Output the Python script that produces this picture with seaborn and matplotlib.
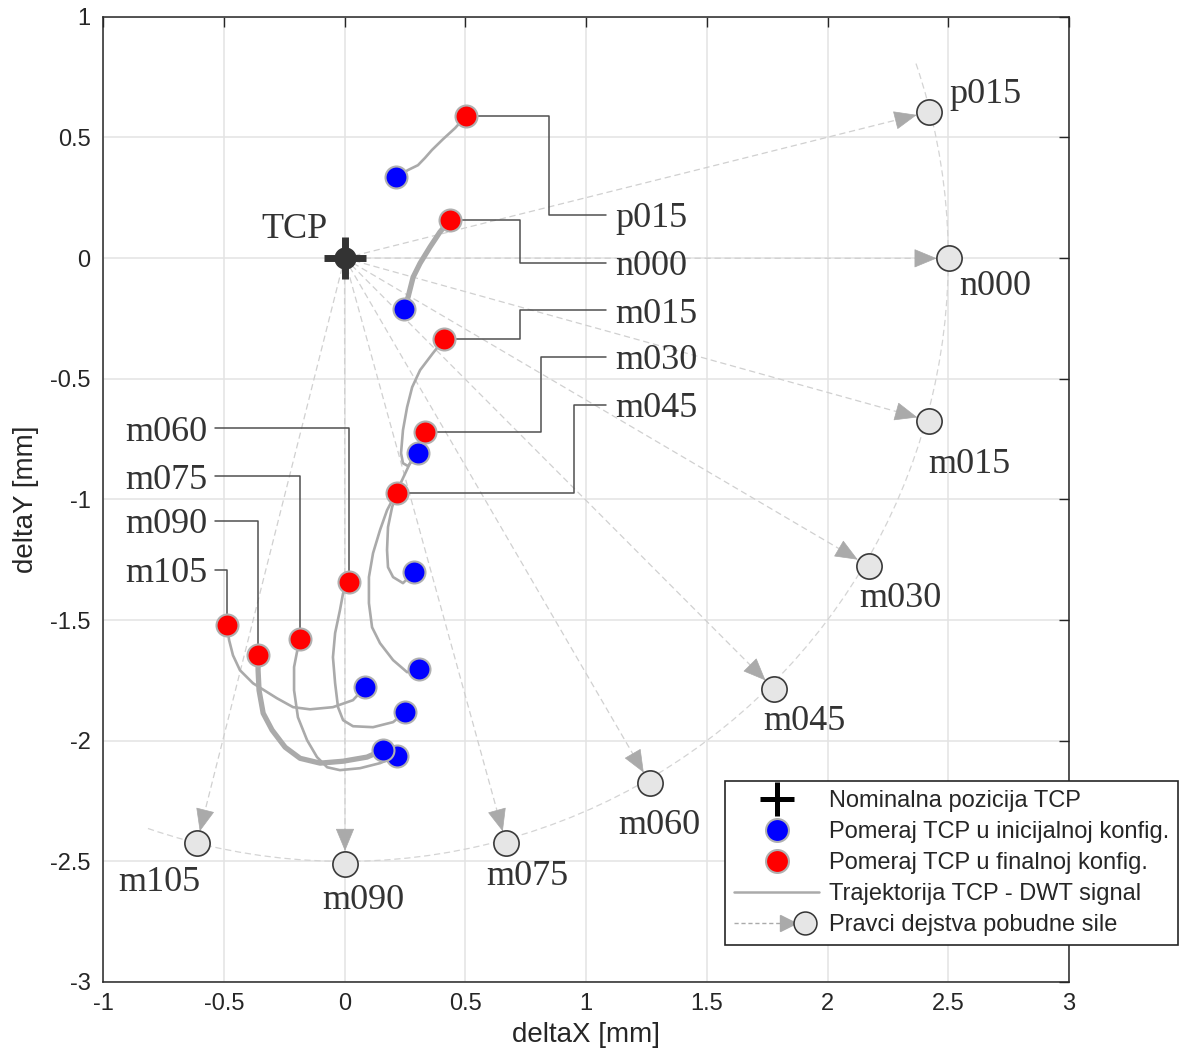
import numpy as np
import pandas as pd
import matplotlib
matplotlib.use("Agg")
import matplotlib.pyplot as plt
from matplotlib.lines import Line2D
from matplotlib.patches import Arc, FancyArrowPatch, ArrowStyle
from matplotlib.legend_handler import HandlerBase
import seaborn as sns

# ---------------------------------------------------------------- data
configs = ["p015", "n000", "m015", "m030", "m045", "m060", "m075", "m090", "m105"]

# TCP trajectories (DWT signal), from initial to final configuration [mm]
p015_x = [0.213, 0.263, 0.304, 0.333, 0.362, 0.408, 0.458, 0.503]
p015_y = [0.336, 0.365, 0.385, 0.415, 0.448, 0.493, 0.539, 0.589]
n000_x = [0.246, 0.263, 0.284, 0.313, 0.354, 0.395, 0.437]
n000_y = [-0.211, -0.162, -0.079, -0.021, 0.046, 0.108, 0.158]
m015_x = [0.304, 0.263, 0.242, 0.234, 0.242, 0.259, 0.280, 0.313, 0.366, 0.412]
m015_y = [-0.808, -0.862, -0.850, -0.808, -0.713, -0.618, -0.535, -0.464, -0.394, -0.336]
m030_x = [0.308, 0.259, 0.201, 0.147, 0.114, 0.101, 0.101, 0.118, 0.147, 0.176,
          0.209, 0.242, 0.271, 0.304, 0.333]
m030_y = [-1.704, -1.716, -1.666, -1.596, -1.530, -1.430, -1.322, -1.223, -1.127, -1.045,
          -0.982, -0.912, -0.850, -0.783, -0.721]
m045_x = [0.288, 0.242, 0.201, 0.180, 0.176, 0.180, 0.197, 0.217]
m045_y = [-1.302, -1.347, -1.322, -1.281, -1.210, -1.115, -1.032, -0.974]
m060_x = [0.251, 0.201, 0.118, 0.035, -0.006, -0.027, -0.039, -0.048, -0.039, -0.019, -0.006, 0.019]
m060_y = [-1.882, -1.923, -1.944, -1.940, -1.915, -1.861, -1.762, -1.654, -1.554, -1.459, -1.389, -1.343]
m075_x = [0.217, 0.147, 0.064, -0.019, -0.072, -0.114, -0.155, -0.193, -0.209, -0.209, -0.197, -0.184]
m075_y = [-2.064, -2.093, -2.114, -2.122, -2.110, -2.068, -1.998, -1.903, -1.791, -1.695, -1.633, -1.579]
m090_x = [0.159, 0.093, -0.006, -0.101, -0.184, -0.246, -0.300, -0.337, -0.354, -0.358, -0.358]
m090_y = [-2.039, -2.068, -2.085, -2.093, -2.073, -2.027, -1.956, -1.886, -1.791, -1.708, -1.646]
m105_x = [0.085, 0.035, -0.048, -0.143, -0.213, -0.280, -0.379, -0.433, -0.462, -0.478, -0.487]
m105_y = [-1.778, -1.832, -1.861, -1.870, -1.861, -1.824, -1.762, -1.708, -1.646, -1.583, -1.521]

# Excitation force directions (points on the R = 2.5 mm arc)
force_x = [2.420, 2.504, 2.422, 2.170, 1.780, 1.265, 0.669, 0.002, -0.612]
force_y = [0.606, -0.001, -0.674, -1.276, -1.787, -2.177, -2.426, -2.509, -2.426]

tcp_x, tcp_y = [0.0], [0.0]

x_ticks = [-1, -0.5, 0, 0.5, 1, 1.5, 2, 2.5, 3]
x_tick_labels = ["-1", "-0.5", "0", "0.5", "1", "1.5", "2", "2.5", "3"]
y_ticks = [-3, -2.5, -2, -1.5, -1, -0.5, 0, 0.5, 1]
y_tick_labels = ["-3", "-2.5", "-2", "-1.5", "-1", "-0.5", "0", "0.5", "1"]

legend_labels = ["Nominalna pozicija TCP", "Pomeraj TCP u inicijalnoj konfig.",
                 "Pomeraj TCP u finalnoj konfig.", "Trajektorija TCP - DWT signal",
                 "Pravci dejstva pobudne sile"]

traj_x = [p015_x, n000_x, m015_x, m030_x, m045_x, m060_x, m075_x, m090_x, m105_x]
traj_y = [p015_y, n000_y, m015_y, m030_y, m045_y, m060_y, m075_y, m090_y, m105_y]

# ---------------------------------------------------------------- layout
thick_traj = {"n000", "m090"}
# leader line heights and elbow positions for the configuration tags
leader_y = {"p015": 0.178, "n000": -0.021, "m015": -0.216, "m030": -0.410, "m045": -0.609,
            "m060": -0.705, "m075": -0.904, "m090": -1.090, "m105": -1.293}
leader_elbow = {"p015": 0.847, "n000": 0.727, "m015": 0.727, "m030": 0.814, "m045": 0.950}
right_end, right_text = 1.083, 1.120
left_end, left_text = -0.536, -0.569
digit_half = 0.051
# tag positions next to the force-direction circles (centre, baseline)
force_tag = {"p015": (2.656, 0.642), "n000": (2.696, -0.153), "m015": (2.588, -0.891),
             "m030": (2.300, -1.447), "m045": (1.905, -1.956), "m060": (1.302, -2.388),
             "m075": (0.758, -2.599), "m090": (0.077, -2.698), "m105": (-0.768, -2.624)}

# ---------------------------------------------------------------- style
sns.set_style("white")
plt.rcParams["font.family"] = ["Liberation Sans", "DejaVu Sans"]
plt.rcParams["axes.unicode_minus"] = False
SERIF = ["Liberation Serif", "DejaVu Serif"]
DARK = "#262626"
TXT = "#333333"
TRAJ = "#aaaaaa"

fig = plt.figure(figsize=(11.79, 10.63), dpi=100)
ax = fig.add_axes([0.0874, 0.0762, 0.8193, 0.908])
ax.set_xlim(-1, 3)
ax.set_ylim(-3, 1)

ax.set_xticks(x_ticks)
ax.set_xticklabels(x_tick_labels)
ax.set_yticks(y_ticks)
ax.set_yticklabels(y_tick_labels)
ax.grid(True, color="#e3e3e3", lw=1.1, zorder=0)
ax.set_axisbelow(True)
ax.tick_params(direction="in", length=7, width=1.0, color=DARK, top=True, right=True,
               labelsize=17, labelcolor=DARK)
ax.tick_params(axis="y", pad=9)
ax.tick_params(axis="x", pad=8)
for sp in ax.spines.values():
    sp.set_color(DARK)
    sp.set_linewidth(1.1)
ax.set_xlabel("deltaX [mm]", fontsize=20, color=DARK, labelpad=5)
ax.set_ylabel("deltaY [mm]", fontsize=20, color=DARK, labelpad=8)

# dashed arc through the force directions
ax.add_patch(Arc((0, 0), 5.0, 5.0, theta1=-109, theta2=19, ls=(0, (5, 3)),
                 ec="#d4d4d4", lw=0.9, zorder=1))

# dashed force-direction arrows from the nominal TCP
r_circle = 0.052
head_len = 0.062
for fx, fy in zip(force_x, force_y):
    d = np.hypot(fx, fy)
    ux, uy = fx / d, fy / d
    tipx, tipy = fx - r_circle * ux, fy - r_circle * uy
    ax.plot([0, tipx - head_len * ux], [0, tipy - head_len * uy], ls=(0, (5, 3)),
            color="#d0d0d0", lw=0.9, zorder=1)
    ax.add_patch(FancyArrowPatch((tipx - head_len * ux, tipy - head_len * uy), (tipx, tipy),
                                 arrowstyle=ArrowStyle("-|>", head_length=1.5, head_width=0.62),
                                 mutation_scale=10, shrinkA=0, shrinkB=0,
                                 fc="#aaaaaa", ec="#aaaaaa", lw=0.5, zorder=2))

sns.scatterplot(x=force_x, y=force_y, s=330, color="#e6e6e6", edgecolor="#3a3a3a",
                linewidth=1.2, ax=ax, zorder=3, legend=False)
for name in configs:
    cx, cy = force_tag[name]
    ax.text(cx, cy, name, ha="center", va="baseline", fontsize=26, color=TXT, family=SERIF)

# trajectories
for name, xs, ys in zip(configs, traj_x, traj_y):
    df = pd.DataFrame({"x": xs, "y": ys})
    sns.lineplot(data=df, x="x", y="y", sort=False, estimator=None, color=TRAJ,
                 lw=3.8 if name in thick_traj else 1.9, ax=ax, zorder=3,
                 solid_capstyle="round", solid_joinstyle="round")

init_x = [t[0] for t in traj_x]
init_y = [t[0] for t in traj_y]
final_x = [t[-1] for t in traj_x]
final_y = [t[-1] for t in traj_y]

# leader lines to the configuration tags
for name, rx, ry in zip(configs, final_x, final_y):
    ly = leader_y[name]
    if name in leader_elbow:
        ex = leader_elbow[name]
        ax.plot([rx, ex, ex, right_end], [ry, ry, ly, ly], color="#505050", lw=1.1, zorder=4)
        ax.text(right_text, ly - digit_half, name, ha="left", va="baseline", fontsize=26,
                color=TXT, family=SERIF)
    else:
        ax.plot([rx, rx, left_end], [ry, ly, ly], color="#505050", lw=1.1, zorder=4)
        ax.text(left_text, ly - digit_half, name, ha="right", va="baseline", fontsize=26,
                color=TXT, family=SERIF)

sns.scatterplot(x=init_x, y=init_y, s=250, color="#0000ff", edgecolor="#b0b0b0",
                linewidth=1.5, ax=ax, zorder=5, legend=False)
sns.scatterplot(x=final_x, y=final_y, s=250, color="#ff0000", edgecolor="#b0b0b0",
                linewidth=1.5, ax=ax, zorder=5, legend=False)

# nominal TCP
ax.plot(tcp_x, tcp_y, marker="+", ms=30, mew=5, color="#333333", ls="none", zorder=6)
ax.plot(tcp_x, tcp_y, marker="o", ms=15, color="#333333", ls="none", zorder=6)
ax.text(-0.207, 0.083, "TCP", ha="center", va="baseline", fontsize=26, color=TXT, family=SERIF)


class ForceDirHandler(HandlerBase):
    def create_artists(self, legend, orig_handle, xdescent, ydescent, width, height,
                       fontsize, trans):
        y = height / 2 - ydescent
        x0 = -xdescent
        line = Line2D([x0, x0 + 0.56 * width], [y, y], ls=(0, (3, 2)), color="#aaaaaa", lw=1.0)
        head = Line2D([x0 + 0.63 * width], [y], marker=">", ms=11, color="#aaaaaa", ls="none")
        circ = Line2D([x0 + 0.83 * width], [y], marker="o", ms=16.5, mfc="#e6e6e6",
                      mec="#333333", mew=1.1, ls="none")
        for a in (line, head, circ):
            a.set_transform(trans)
        return [line, head, circ]


class ForceDirKey:
    pass


handles = [
    Line2D([], [], ls="none", marker="+", ms=25, mew=3.6, color="black"),
    Line2D([], [], ls="none", marker="o", ms=16.5, mfc="#0000ff", mec="#b0b0b0", mew=1.5),
    Line2D([], [], ls="none", marker="o", ms=16.5, mfc="#ff0000", mec="#b0b0b0", mew=1.5),
    Line2D([], [], color=TRAJ, lw=1.8),
    ForceDirKey(),
]
leg = fig.legend(handles, legend_labels, loc="upper right", bbox_to_anchor=(0.999, 0.265),
                 bbox_transform=fig.transFigure, borderaxespad=0, fontsize=17,
                 handlelength=3.6, handletextpad=0.4, labelspacing=0.38, borderpad=0.38,
                 fancybox=False, framealpha=1, edgecolor=DARK,
                 handler_map={ForceDirKey: ForceDirHandler()})
leg.get_frame().set_linewidth(1.2)

fig.savefig("out.png", dpi=100)
